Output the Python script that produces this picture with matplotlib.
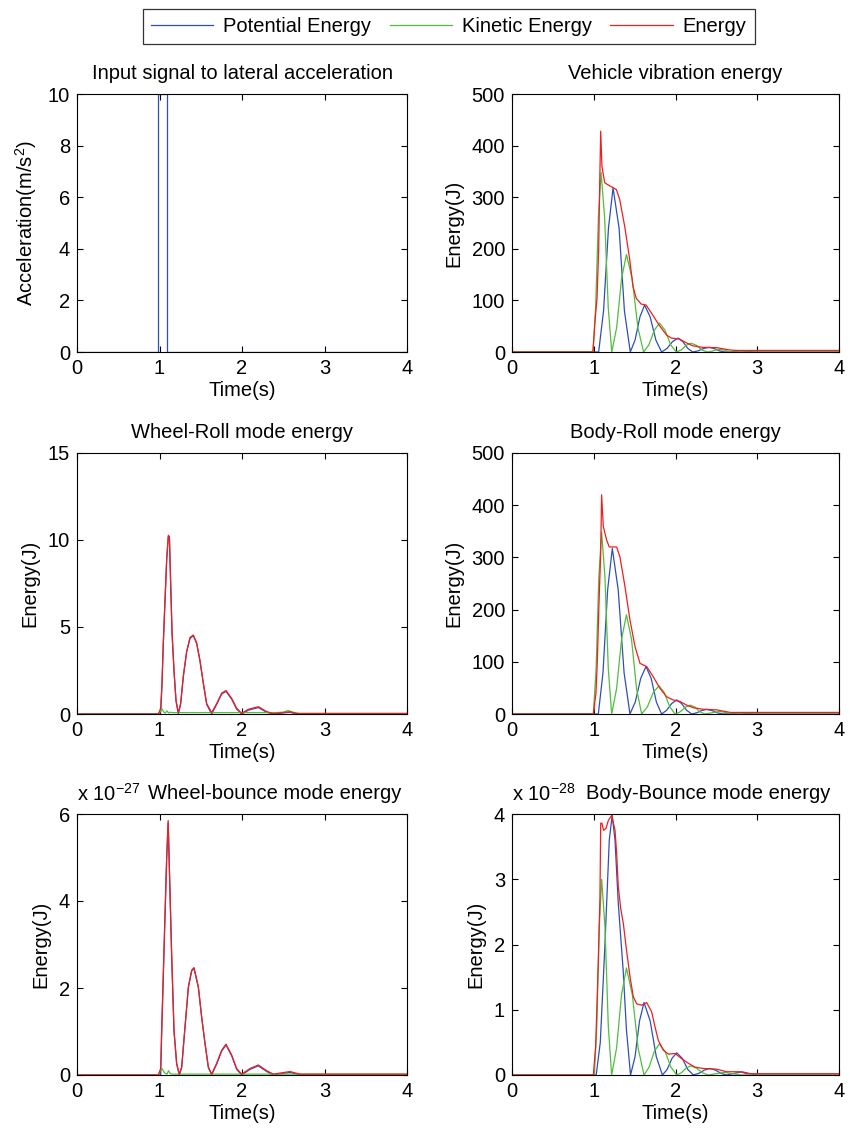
import matplotlib
matplotlib.use("Agg")
import matplotlib.pyplot as plt
from matplotlib.lines import Line2D

plt.rcParams['font.family'] = ['Liberation Sans', 'DejaVu Sans']
plt.rcParams['mathtext.fontset'] = 'custom'
plt.rcParams['mathtext.rm'] = 'Liberation Sans'
plt.rcParams['mathtext.it'] = 'Liberation Sans'
FS = 14.5
plt.rcParams['font.size'] = FS

C_PE = '#2f4fb5'
C_KE = '#4fbf3c'
C_E = '#f01e1e'

# input signal
acc_t = [0, 0.985, 0.985, 1.085, 1.085, 4.0]
acc = [0, 0, 10, 10, 0, 0]

# vehicle vibration energy (J)
veh_pe_t = [0, 1.06, 1.12, 1.18, 1.236, 1.31, 1.375, 1.447, 1.505, 1.565, 1.622, 1.69, 1.76, 1.83,
            1.897, 1.963, 2.03, 2.09, 2.15, 2.21, 2.277, 2.343, 2.41, 2.473, 2.537, 2.60, 2.70, 2.80, 2.90, 3.0, 4.0]
veh_pe = [0, 0, 80, 240, 318, 240, 80, 0, 23, 68, 91, 68, 23, 0,
          7, 20, 27, 20, 7, 0, 2.2, 6.8, 9, 6.8, 2.2, 0, 1, 2, 1, 0, 0]
veh_ke_t = [0, 0.99, 1.023, 1.057, 1.09, 1.133, 1.177, 1.22, 1.28, 1.34, 1.40, 1.47, 1.54, 1.61,
            1.675, 1.74, 1.805, 1.873, 1.94, 2.01, 2.07, 2.13, 2.19, 2.257, 2.323, 2.39,
            2.44, 2.49, 2.54, 2.593, 2.647, 2.70, 4.0]
veh_ke = [0, 0, 87, 261, 348, 261, 87, 0, 47, 142, 189, 142, 47, 0,
          14, 42, 56, 42, 14, 0, 4, 13, 17, 13, 4, 0,
          1.2, 3.8, 5, 3.8, 1.2, 0, 0]
veh_e_t = [0, 0.99, 1.02, 1.04, 1.06, 1.073, 1.085, 1.10, 1.134, 1.195, 1.276, 1.317, 1.378, 1.44, 1.48,
           1.52, 1.58, 1.64, 1.72, 1.80, 1.89, 1.95, 2.05, 2.13, 2.21, 2.33, 2.50, 2.66, 2.75, 4.0]
veh_e = [0, 0, 69, 104, 198, 328, 428, 360, 328, 322, 315, 296, 244, 179, 127,
         104, 93, 91, 72, 52, 33, 27, 25, 18, 12, 9, 8.5, 4, 3, 3]

# wheel-roll mode energy (J)
wr_t = [0, 0.986, 1.014, 1.03, 1.046, 1.067, 1.087, 1.107, 1.12, 1.135,
        1.152, 1.176, 1.20, 1.228, 1.256, 1.289, 1.329, 1.37, 1.41, 1.45,
        1.49, 1.531, 1.572, 1.632, 1.693, 1.754, 1.806, 1.875, 1.935, 1.996,
        2.077, 2.198, 2.299, 2.38, 2.48, 2.582, 2.66, 4.0]
wr_e = [0, 0, 0.33, 1.8, 4.1, 6.6, 8.9, 10.27, 10.2, 7.6,
        4.7, 2.5, 0.8, 0.08, 0.6, 2.2, 3.6, 4.4, 4.54, 4.1,
        3.1, 1.8, 0.6, 0.08, 0.6, 1.2, 1.35, 0.9, 0.33, 0.04,
        0.27, 0.42, 0.14, 0.02, 0.08, 0.13, 0.03, 0.03]
wr_pe = [0, 0, 0.1, 1.6, 4.0, 6.5, 8.85, 10.2, 10.15, 7.55,
         4.65, 2.45, 0.75, 0.0, 0.55, 2.15, 3.55, 4.35, 4.5, 4.05,
         3.05, 1.75, 0.55, 0.0, 0.55, 1.15, 1.3, 0.85, 0.28, 0.0,
         0.22, 0.37, 0.1, 0.0, 0.05, 0.1, 0.0, 0.0]
wr_ke_t = [0, 0.986, 1.01, 1.026, 1.05, 1.07, 1.09, 1.11, 1.13, 1.16, 2.40, 2.50, 2.56, 2.62, 2.70, 4.0]
wr_ke = [0, 0, 0.15, 0.33, 0.12, 0.05, 0.18, 0.06, 0.1, 0.08, 0.08, 0.1, 0.2, 0.1, 0.03, 0.03]

# body-roll mode energy (J)
br_pe_t = [0, 1.056, 1.113, 1.17, 1.227, 1.299, 1.371, 1.443, 1.508, 1.574, 1.639, 1.703, 1.766, 1.83,
           1.891, 1.953, 2.014, 2.075, 2.137, 2.198, 2.259, 2.32, 2.38, 2.447, 2.513, 2.58,
           2.68, 2.78, 2.88, 2.98, 4.0]
br_pe = [0, 0, 79, 238, 317, 238, 79, 0, 23, 68, 91, 68, 23, 0,
         7, 20, 27, 20, 7, 0, 2.2, 6.6, 8.8, 6.6, 2.2, 0,
         1, 2, 1, 0, 0]
br_ke_t = [0, 0.995, 1.029, 1.062, 1.096, 1.137, 1.178, 1.219, 1.279, 1.34, 1.40, 1.462, 1.524, 1.586,
           1.657, 1.727, 1.798, 1.863, 1.929, 1.994, 2.056, 2.118, 2.18, 2.24, 2.30, 2.36,
           2.45, 2.54, 2.62, 2.70, 4.0]
br_ke = [0, 0, 87, 262, 349, 262, 87, 0, 48, 143, 190, 143, 48, 0,
         14, 41, 54, 41, 14, 0, 4, 13, 17, 13, 4, 0,
         2.5, 5, 2.5, 0, 0]
br_e_t = [0, 0.995, 1.027, 1.044, 1.064, 1.085, 1.096, 1.117, 1.158, 1.19, 1.28, 1.32, 1.382, 1.443,
          1.505, 1.566, 1.647, 1.729, 1.81, 1.892, 1.97, 2.055, 2.137, 2.22, 2.34, 2.50, 2.67, 4.0]
br_e = [0, 0, 40, 103, 212, 308, 420, 359, 333, 320, 320, 301, 244, 180,
        129, 97, 91, 71, 49, 33, 27, 24, 17, 12, 9, 8, 3, 3]

# wheel-bounce mode energy (x 1e-27 J)
wb_t = [0, 0.986, 1.014, 1.026, 1.046, 1.067, 1.087, 1.105, 1.127, 1.147,
        1.176, 1.208, 1.24, 1.269, 1.309, 1.35, 1.39, 1.418, 1.471, 1.511,
        1.552, 1.592, 1.632, 1.693, 1.754, 1.806, 1.875, 1.935, 1.996, 2.097,
        2.198, 2.299, 2.38, 2.48, 2.582, 2.70, 4.0]
wb_e = [0, 0, 0.15, 1.03, 2.34, 3.72, 5.02, 5.85, 4.25, 2.8,
        1.03, 0.27, 0.02, 0.19, 1.11, 2.03, 2.41, 2.47, 2.03, 1.34,
        0.73, 0.19, 0.02, 0.27, 0.57, 0.71, 0.46, 0.15, 0.02, 0.15,
        0.23, 0.1, 0.02, 0.05, 0.08, 0.02, 0.02]
wb_pe = [0, 0, 0.0, 0.9, 2.25, 3.65, 4.97, 5.8, 4.2, 2.75,
         1.0, 0.25, 0.0, 0.17, 1.09, 2.01, 2.39, 2.45, 2.01, 1.32,
         0.71, 0.17, 0.0, 0.25, 0.55, 0.69, 0.44, 0.13, 0.0, 0.13,
         0.21, 0.08, 0.0, 0.03, 0.06, 0.0, 0.0]
wb_ke_t = [0, 0.986, 1.01, 1.03, 1.06, 1.09, 1.11, 1.13, 1.16, 4.0]
wb_ke = [0, 0, 0.1, 0.15, 0.05, 0.02, 0.1, 0.03, 0.02, 0.02]

# body-bounce mode energy (x 1e-28 J)
bb_pe_t = [0, 1.03, 1.08, 1.137, 1.19, 1.225, 1.26, 1.30, 1.36, 1.40,
           1.45, 1.505, 1.56, 1.615, 1.69, 1.765, 1.84, 1.898, 1.957, 2.015,
           2.083, 2.15, 2.218, 2.285, 2.353, 2.42, 2.488, 2.557, 2.625, 2.72,
           2.81, 2.90, 3.0, 4.0]
bb_pe = [0, 0, 0.5, 2.0, 3.6, 3.98, 3.6, 2.63, 1.6, 0.69,
         0, 0.28, 0.83, 1.11, 0.83, 0.28, 0, 0.085, 0.255, 0.34,
         0.255, 0.085, 0, 0.025, 0.075, 0.1, 0.075, 0.025, 0, 0.025,
         0.05, 0.025, 0, 0]
bb_ke_t = [0, 1.007, 1.037, 1.067, 1.097, 1.138, 1.178, 1.219, 1.279, 1.34,
           1.40, 1.472, 1.543, 1.615, 1.677, 1.74, 1.802, 1.873, 1.944, 2.015,
           2.072, 2.128, 2.185, 2.257, 2.328, 2.40, 2.50, 2.60, 2.70, 2.80, 4.0]
bb_ke = [0, 0, 0.75, 2.25, 3.0, 2.25, 0.75, 0, 0.41, 1.23,
         1.64, 1.23, 0.41, 0, 0.12, 0.36, 0.475, 0.36, 0.12, 0,
         0.035, 0.105, 0.14, 0.105, 0.035, 0, 0.02, 0.04, 0.02, 0, 0]
bb_e_t = [0, 0.995, 1.023, 1.035, 1.056, 1.076, 1.085, 1.10, 1.12, 1.15,
          1.178, 1.22, 1.26, 1.28, 1.30, 1.33, 1.362, 1.40, 1.443, 1.484,
          1.525, 1.586, 1.647, 1.708, 1.749, 1.79, 1.851, 1.912, 1.994, 2.075,
          2.157, 2.238, 2.34, 2.50, 2.625, 2.79, 2.87, 4.0]
bb_e = [0, 0, 0.43, 0.89, 1.76, 2.73, 3.86, 3.86, 3.75, 3.78,
        3.9, 3.98, 3.75, 3.4, 2.89, 2.55, 2.32, 1.92, 1.51, 1.20,
        1.09, 1.07, 1.11, 0.97, 0.74, 0.53, 0.38, 0.32, 0.33, 0.25,
        0.18, 0.12, 0.1, 0.09, 0.05, 0.05, 0.02, 0.02]

fig = plt.figure(figsize=(8.5, 11.33), dpi=100)

W, H = 850, 1133
cols = [(77, 407), (512, 839)]
rows = [(94, 352), (453, 714), (814, 1075)]


def make_ax(r, c):
    x0, x1 = cols[c]
    y0, y1 = rows[r]
    ax = fig.add_axes([x0 / W, 1 - y1 / H, (x1 - x0) / W, (y1 - y0) / H])
    ax.tick_params(direction='in', top=True, right=True, length=4, width=0.8,
                   labelsize=FS, pad=5)
    for s in ax.spines.values():
        s.set_linewidth(0.8)
    ax.set_xlim(0, 4)
    ax.set_xticks([0, 1, 2, 3, 4])
    ax.set_xlabel('Time(s)', labelpad=2)
    return ax


def energy(ax, tp, pe, tk, ke, te, e):
    ax.plot(tp, pe, color=C_PE, lw=0.9)
    ax.plot(tk, ke, color=C_KE, lw=0.9)
    ax.plot(te, e, color=C_E, lw=0.9)


ax = make_ax(0, 0)
ax.plot(acc_t, acc, color=C_PE, lw=0.9)
ax.set_ylim(0, 10)
ax.set_yticks([0, 2, 4, 6, 8, 10])
ax.set_ylabel('Acceleration(m/s$^2$)', labelpad=6)
ax.set_title('Input signal to lateral acceleration', fontsize=FS, pad=11)

ax = make_ax(0, 1)
energy(ax, veh_pe_t, veh_pe, veh_ke_t, veh_ke, veh_e_t, veh_e)
ax.set_ylim(0, 500)
ax.set_yticks([0, 100, 200, 300, 400, 500])
ax.set_ylabel('Energy(J)', labelpad=6)
ax.set_title('Vehicle vibration energy', fontsize=FS, pad=11)

ax = make_ax(1, 0)
energy(ax, wr_t, wr_pe, wr_ke_t, wr_ke, wr_t, wr_e)
ax.set_ylim(0, 15)
ax.set_yticks([0, 5, 10, 15])
ax.set_ylabel('Energy(J)', labelpad=6)
ax.set_title('Wheel-Roll mode energy', fontsize=FS, pad=11)

ax = make_ax(1, 1)
energy(ax, br_pe_t, br_pe, br_ke_t, br_ke, br_e_t, br_e)
ax.set_ylim(0, 500)
ax.set_yticks([0, 100, 200, 300, 400, 500])
ax.set_ylabel('Energy(J)', labelpad=6)
ax.set_title('Body-Roll mode energy', fontsize=FS, pad=11)

ax = make_ax(2, 0)
energy(ax, wb_t, wb_pe, wb_ke_t, wb_ke, wb_t, wb_e)
ax.set_ylim(0, 6)
ax.set_yticks([0, 2, 4, 6])
ax.set_ylabel('Energy(J)', labelpad=6)
ax.set_title('Wheel-bounce mode energy', fontsize=FS, pad=11, x=0.6)
ax.text(0.0, 1.035, 'x 10$^{-27}$', transform=ax.transAxes, fontsize=FS, ha='left', va='bottom')

ax = make_ax(2, 1)
energy(ax, bb_pe_t, bb_pe, bb_ke_t, bb_ke, bb_e_t, bb_e)
ax.set_ylim(0, 4)
ax.set_yticks([0, 1, 2, 3, 4])
ax.set_ylabel('Energy(J)', labelpad=6)
ax.set_title('Body-Bounce mode energy', fontsize=FS, pad=11, x=0.6)
ax.text(0.0, 1.035, 'x 10$^{-28}$', transform=ax.transAxes, fontsize=FS, ha='left', va='bottom')

handles = [Line2D([], [], color=C_PE, lw=0.9),
           Line2D([], [], color=C_KE, lw=0.9),
           Line2D([], [], color=C_E, lw=0.9)]
leg = fig.legend(handles, ['Potential Energy', 'Kinetic Energy', 'Energy'],
                 loc='center', bbox_to_anchor=(0.528, 0.9766), ncol=3, fontsize=FS,
                 frameon=True, fancybox=False, edgecolor='black', handlelength=3.1,
                 columnspacing=0.9, handletextpad=0.5, borderpad=0.4)
leg.get_frame().set_linewidth(0.9)

fig.savefig('out.png', dpi=100)
